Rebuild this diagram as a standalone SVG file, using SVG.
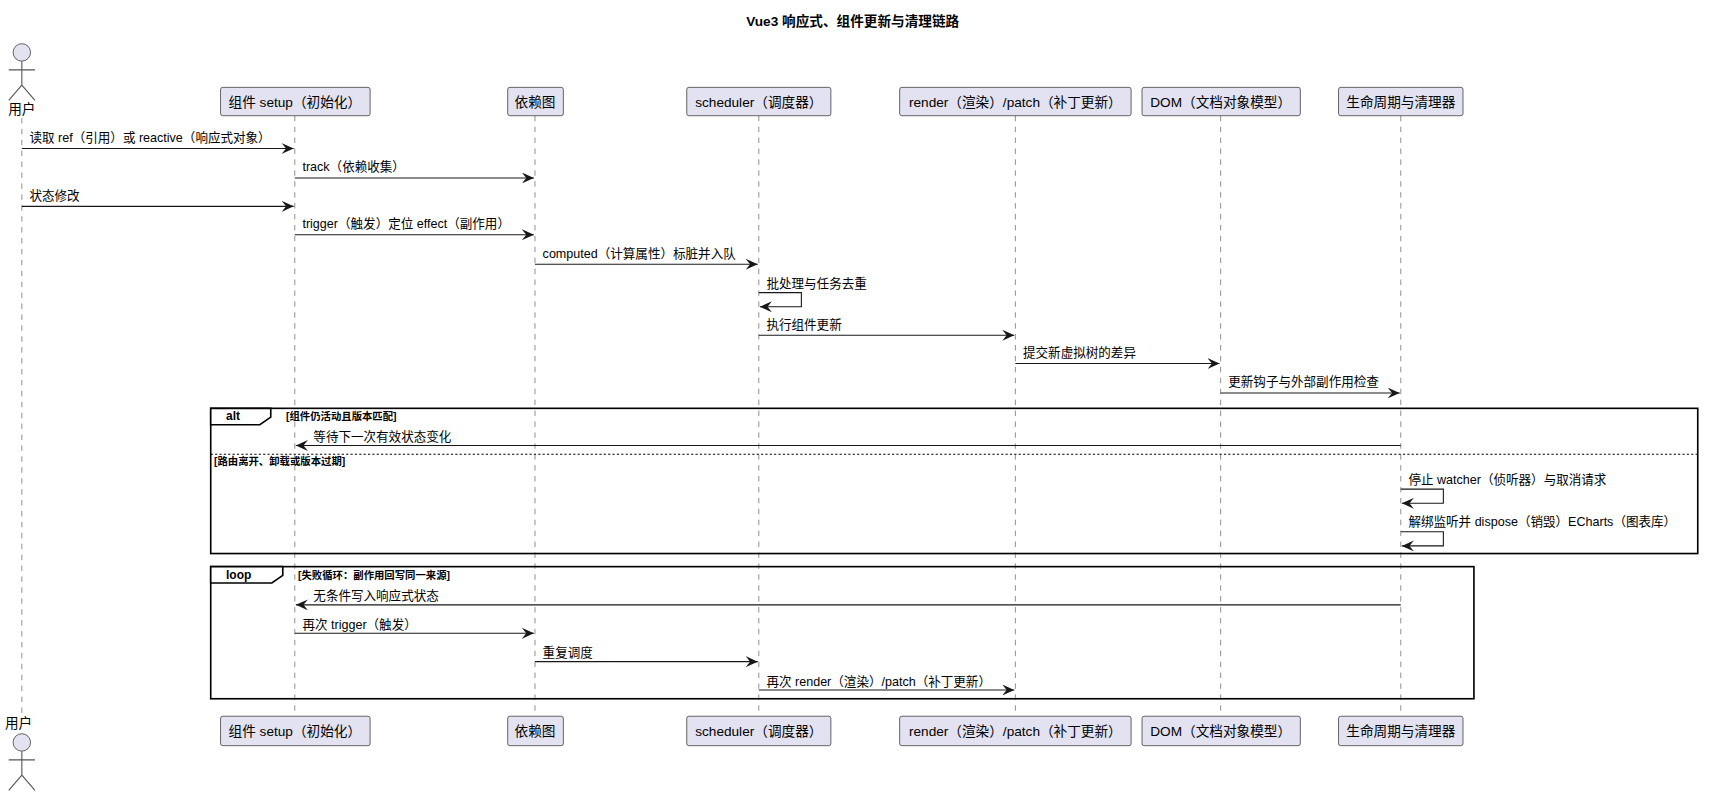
<svg xmlns="http://www.w3.org/2000/svg" width="1712" height="798" viewBox="0 0 1712 798">
<style>
text{font-family:"Liberation Sans","Noto Sans CJK SC",sans-serif;font-size:11.5px;fill:#000}
.t{font-weight:bold;font-size:12.5px}
.b{font-weight:bold;font-size:9.5px}
.p{fill:#E2E2F0;stroke:#181818;stroke-width:0.6}
.ll{stroke:#555;stroke-width:0.6;stroke-dasharray:5,5}
.m{stroke:#181818;stroke-width:1;fill:none}
.f{fill:none;stroke:#000;stroke-width:1.5}
.pl{text-anchor:middle;font-size:12.5px}
</style>
<defs>
<marker id="a" viewBox="0 0 12 10" refX="11" refY="5" markerWidth="12" markerHeight="10" markerUnits="userSpaceOnUse" orient="auto"><path d="M0,0 L11,5 L0,10 L4,5 Z" fill="#181818"/></marker>
</defs>
<rect width="1712" height="798" fill="#fff"/>
<g transform="scale(1.0918)">
<text class="t" x="781" y="24" text-anchor="middle">Vue3 响应式、组件更新与清理链路</text>
<g id="lifelines">
<line class="ll" x1="20" y1="108" x2="20" y2="660"/>
<line class="ll" x1="270" y1="106" x2="270" y2="656"/>
<line class="ll" x1="490" y1="106" x2="490" y2="656"/>
<line class="ll" x1="695" y1="106" x2="695" y2="656"/>
<line class="ll" x1="930" y1="106" x2="930" y2="656"/>
<line class="ll" x1="1118" y1="106" x2="1118" y2="656"/>
<line class="ll" x1="1283" y1="106" x2="1283" y2="656"/>
</g>
<g id="user">
<circle class="p" cx="20" cy="48" r="8"/>
<path class="m" style="stroke:#555" d="M20,56 V78 M8,64 H32 M20,78 L8,92 M20,78 L32,92"/>
<text x="20" y="104" class="pl">用户</text>
<text x="17" y="667" class="pl">用户</text>
<circle class="p" cx="20" cy="680" r="8"/>
<path class="m" style="stroke:#555" d="M20,688 V710 M8,696 H32 M20,710 L8,724 M20,710 L32,724"/>
</g>
<g id="setup"><rect class="p" x="202" y="80" width="137" height="26" rx="2"/><text class="pl" x="270" y="98">组件 setup（初始化）</text>
<rect class="p" x="202" y="656" width="137" height="27" rx="2"/><text class="pl" x="270" y="674">组件 setup（初始化）</text></g>
<g id="dep"><rect class="p" x="465" y="80" width="51" height="26" rx="2"/><text class="pl" x="490" y="98">依赖图</text>
<rect class="p" x="465" y="656" width="51" height="27" rx="2"/><text class="pl" x="490" y="674">依赖图</text></g>
<g id="scheduler"><rect class="p" x="629" y="80" width="132" height="26" rx="2"/><text class="pl" x="695" y="98">scheduler（调度器）</text>
<rect class="p" x="629" y="656" width="132" height="27" rx="2"/><text class="pl" x="695" y="674">scheduler（调度器）</text></g>
<g id="render"><rect class="p" x="824" y="80" width="212" height="26" rx="2"/><text class="pl" x="930" y="98">render（渲染）/patch（补丁更新）</text>
<rect class="p" x="824" y="656" width="212" height="27" rx="2"/><text class="pl" x="930" y="674">render（渲染）/patch（补丁更新）</text></g>
<g id="dom"><rect class="p" x="1046" y="80" width="145" height="26" rx="2"/><text class="pl" x="1118" y="98">DOM（文档对象模型）</text>
<rect class="p" x="1046" y="656" width="145" height="27" rx="2"/><text class="pl" x="1118" y="674">DOM（文档对象模型）</text></g>
<g id="lifecycle"><rect class="p" x="1226" y="80" width="114" height="26" rx="2"/><text class="pl" x="1283" y="98">生命周期与清理器</text>
<rect class="p" x="1226" y="656" width="114" height="27" rx="2"/><text class="pl" x="1283" y="674">生命周期与清理器</text></g>
<g id="fragments">
<rect class="f" x="193" y="374" width="1362" height="133"/>
<path d="M193,374 H248 V382 L238,389 H193 Z" fill="#fff" stroke="#000" stroke-width="1.5"/>
<text class="b" x="207" y="385" style="font-size:11px">alt</text>
<text class="b" x="262" y="385">[组件仍活动且版本匹配]</text>
<line x1="193" y1="416" x2="1555" y2="416" stroke="#000" stroke-width="1" stroke-dasharray="2,2"/>
<text class="b" x="196" y="426">[路由离开、卸载或版本过期]</text>
<rect class="f" x="193" y="519" width="1157" height="121"/>
<path d="M193,519 H259 V527 L249,534 H193 Z" fill="#fff" stroke="#000" stroke-width="1.5"/>
<text class="b" x="207" y="530" style="font-size:11px">loop</text>
<text class="b" x="273" y="530">[失败循环：副作用回写同一来源]</text>
</g>
<g id="connectors">
<line class="m" x1="20" y1="136" x2="269" y2="136" marker-end="url(#a)"/><text x="27" y="130">读取 ref（引用）或 reactive（响应式对象）</text>
<line class="m" x1="270" y1="163" x2="489" y2="163" marker-end="url(#a)"/><text x="277" y="157">track（依赖收集）</text>
<line class="m" x1="20" y1="189" x2="269" y2="189" marker-end="url(#a)"/><text x="27" y="183">状态修改</text>
<line class="m" x1="270" y1="215" x2="489" y2="215" marker-end="url(#a)"/><text x="277" y="209">trigger（触发）定位 effect（副作用）</text>
<line class="m" x1="490" y1="242" x2="694" y2="242" marker-end="url(#a)"/><text x="497" y="236">computed（计算属性）标脏并入队</text>
<path class="m" d="M695,268 H734 V281 H696" marker-end="url(#a)"/><text x="702" y="264">批处理与任务去重</text>
<line class="m" x1="695" y1="307" x2="929" y2="307" marker-end="url(#a)"/><text x="702" y="301">执行组件更新</text>
<line class="m" x1="930" y1="333" x2="1117" y2="333" marker-end="url(#a)"/><text x="937" y="327">提交新虚拟树的差异</text>
<line class="m" x1="1118" y1="360" x2="1282" y2="360" marker-end="url(#a)"/><text x="1125" y="354">更新钩子与外部副作用检查</text>
<line class="m" x1="1283" y1="408" x2="271" y2="408" marker-end="url(#a)"/><text x="287" y="404">等待下一次有效状态变化</text>
<path class="m" d="M1283,448 H1322 V461 H1284" marker-end="url(#a)"/><text x="1290" y="443">停止 watcher（侦听器）与取消请求</text>
<path class="m" d="M1283,487 H1322 V500 H1284" marker-end="url(#a)"/><text x="1290" y="482">解绑监听并 dispose（销毁）ECharts（图表库）</text>
<line class="m" x1="1283" y1="554" x2="271" y2="554" marker-end="url(#a)"/><text x="287" y="550">无条件写入响应式状态</text>
<line class="m" x1="270" y1="580" x2="489" y2="580" marker-end="url(#a)"/><text x="277" y="576">再次 trigger（触发）</text>
<line class="m" x1="490" y1="606" x2="694" y2="606" marker-end="url(#a)"/><text x="497" y="602">重复调度</text>
<line class="m" x1="695" y1="632" x2="929" y2="632" marker-end="url(#a)"/><text x="702" y="628">再次 render（渲染）/patch（补丁更新）</text>
</g>
</g>
</svg>
